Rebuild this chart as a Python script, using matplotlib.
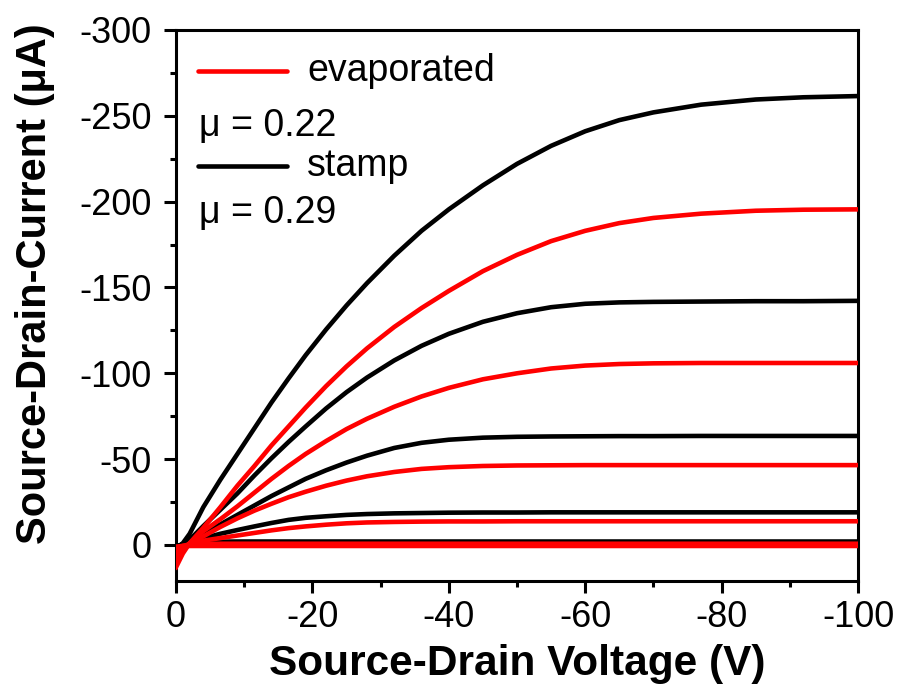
import matplotlib
matplotlib.use("Agg")
import matplotlib.pyplot as plt
from matplotlib.ticker import MultipleLocator

plt.rcParams['font.family'] = ['Liberation Sans', 'DejaVu Sans']

# Source-drain voltage grid (V)
vsd = [0, -1, -2, -4, -6.5, -9, -11.5, -14, -16.5, -19, -22, -25, -28, -32, -36,
       -40, -45, -50, -55, -60, -65, -70, -77, -85, -92, -100]

# stamp (black) curves, source-drain current in uA
stamp_1 = [0.5, 0, -0.3, -0.3, -0.3, -0.3, -0.3, -0.3, -0.3, -0.3, -0.3, -0.3, -0.3,
           -0.3, -0.3, -0.3, -0.3, -0.3, -0.3, -0.3, -0.3, -0.3, -0.3, -0.3, -0.3, -0.3]
stamp_2 = [1, -0.5, -1.2, -1.7, -1.9, -2, -2, -2, -2, -2, -2, -2, -2,
           -2, -2, -2, -2, -2, -2, -2, -2, -2, -2, -2, -2, -2]
stamp_3 = [1.5, -0.3, -1.5, -3.9, -6.5, -8.7, -10.8, -12.8, -14.6, -15.8, -16.7, -17.5, -18,
           -18.4, -18.6, -18.8, -18.9, -18.9, -19, -19, -19, -19, -19, -19, -19, -19]
stamp_4 = [2, -0.5, -2.2, -6.5, -12, -17.5, -23, -28.5, -33.5, -38.5, -43.5, -48, -52,
           -56.5, -59.5, -61.3, -62.5, -63, -63.2, -63.3, -63.4, -63.4, -63.5, -63.5, -63.5, -63.5]
stamp_5 = [2, -0.5, -3, -11, -20.5, -30, -40.5, -50.5, -60, -69, -79.5, -89, -97.5,
           -107.5, -116, -123, -130, -135, -138.5, -140.5, -141.3, -141.6, -141.8, -142, -142, -142.2]
stamp_6 = [2, -1, -6.5, -22, -38, -53, -68, -83, -97, -110.5, -125.5, -139.5, -152.5,
           -168.5, -183, -195.5, -209.5, -222, -232.5, -241, -247.5, -252, -256.5, -259.5, -260.8, -261.5]

# evaporated (red) curves
evap_1 = [1, 0.6, 0.6, 0.6, 0.6, 0.6, 0.6, 0.6, 0.6, 0.6, 0.6, 0.6, 0.6,
          0.6, 0.6, 0.6, 0.6, 0.6, 0.6, 0.6, 0.6, 0.6, 0.6, 0.6, 0.6, 0.6]
evap_2 = [2, 0.5, -0.3, -0.6, -0.7, -0.7, -0.7, -0.7, -0.7, -0.7, -0.7, -0.7, -0.7,
          -0.7, -0.7, -0.7, -0.7, -0.7, -0.7, -0.7, -0.7, -0.7, -0.7, -0.7, -0.7, -0.7]
evap_3 = [4, 1, -0.5, -2.5, -4, -5.5, -7, -8.5, -9.8, -10.8, -11.8, -12.6, -13.1,
          -13.4, -13.6, -13.7, -13.7, -13.8, -13.8, -13.8, -13.8, -13.8, -13.8, -13.8, -13.8, -13.8]
evap_4 = [7, 2, -0.5, -5, -10.5, -15.5, -20, -24, -27.8, -31, -34.5, -37.5, -40,
          -42.5, -44.3, -45.3, -46, -46.3, -46.4, -46.5, -46.5, -46.5, -46.5, -46.5, -46.5, -46.5]
evap_5 = [10, 3, -1, -8, -15, -22.5, -30.5, -38.5, -46, -53, -60.5, -67.5, -73.5,
          -80.5, -86.5, -91.5, -96.5, -100, -102.8, -104.5, -105.4, -105.8, -106, -106, -106, -106]
evap_6 = [13, 5, -1, -10, -22, -34.5, -46, -58, -69, -80, -92.5, -104, -114.5,
          -127, -138, -148, -159.5, -169, -177, -183, -187.5, -190.5, -193, -194.7, -195.3, -195.5]

stamp_curves = [stamp_1, stamp_2, stamp_3, stamp_4, stamp_5, stamp_6]
evap_curves = [evap_1, evap_2, evap_3, evap_4, evap_5, evap_6]

xticks = [0, -20, -40, -60, -80, -100]
yticks = [0, -50, -100, -150, -200, -250, -300]

fig = plt.figure(figsize=(8.98, 6.91), dpi=100)
ax = fig.add_axes([0.196, 0.1592, 0.7595, 0.7974])

LW = 3.3
for c in stamp_curves:
    ax.plot(vsd, c, color='black', lw=LW, solid_joinstyle='round', zorder=2)
for c in evap_curves:
    ax.plot(vsd, c, color='#ff0000', lw=LW, solid_joinstyle='round', zorder=3)

ax.set_xlim(0, -100)
ax.set_ylim(21, -300)
ax.set_xticks(xticks)
ax.set_yticks(yticks)
ax.set_xticklabels([str(v) for v in xticks])
ax.set_yticklabels([str(v) for v in yticks])
ax.xaxis.set_minor_locator(MultipleLocator(10))
ax.yaxis.set_minor_locator(MultipleLocator(25))

for s in ax.spines.values():
    s.set_linewidth(2.2)

ax.tick_params(axis='both', which='major', direction='out', length=8.5, width=2.2,
               labelsize=26, top=False, right=False)
ax.tick_params(axis='both', which='minor', direction='out', length=4.5, width=2.2,
               top=False, right=False)
ax.tick_params(axis='y', which='major', pad=9)
ax.tick_params(axis='x', which='major', pad=5)

ax.set_xlabel('Source-Drain Voltage (V)', fontsize=30.5, fontweight='bold', labelpad=7)
ax.set_ylabel('Source-Drain-Current (μA)', fontsize=30, fontweight='bold')
ax.yaxis.set_label_coords(-0.178, 0.539)

# manual legend
ax.plot([0.032, 0.163], [0.925, 0.925], transform=ax.transAxes, color='#ff0000',
        lw=LW, solid_capstyle='round', clip_on=False)
ax.text(0.192, 0.925, 'evaporated', transform=ax.transAxes, fontsize=27,
        va='center', ha='left')
ax.text(0.034, 0.826, 'μ = 0.22', transform=ax.transAxes, fontsize=27,
        va='center', ha='left')
ax.plot([0.032, 0.163], [0.754, 0.754], transform=ax.transAxes, color='black',
        lw=LW, solid_capstyle='round', clip_on=False)
ax.text(0.192, 0.754, 'stamp', transform=ax.transAxes, fontsize=27,
        va='center', ha='left')
ax.text(0.034, 0.667, 'μ = 0.29', transform=ax.transAxes, fontsize=27,
        va='center', ha='left')

fig.savefig('out.png', dpi=100)
